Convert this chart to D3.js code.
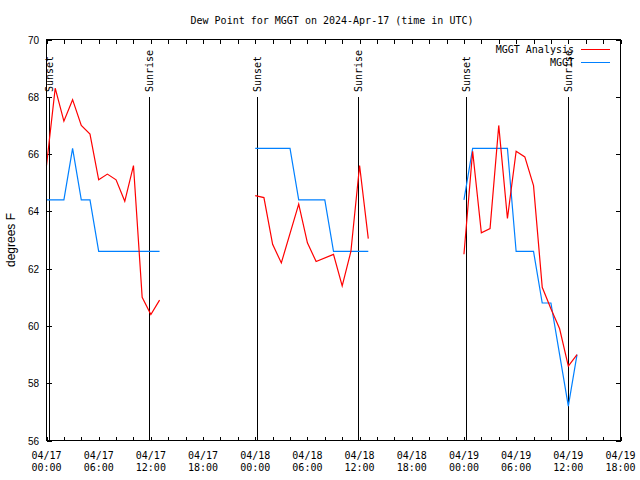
<!DOCTYPE html>
<html>
<head>
<meta charset="utf-8">
<script src="https://cdn.jsdelivr.net/npm/d3@7"></script>
<style>
  html, body { margin: 0; padding: 0; background: #fff; }
  svg { display: block; }
  .mono { font-family: "DejaVu Sans Mono", "Liberation Mono", monospace; font-size: 10px; fill: #000; }
  .sans { font-family: "Liberation Sans", Arial, sans-serif; fill: #000; }
</style>
</head>
<body>
<svg id="chart" width="640" height="480"></svg>
<script>
// ---- data (hours since 2024-04-17 00:00 UTC) ----
const titleText = "Dew Point for MGGT on 2024-Apr-17 (time in UTC)";
const yLabel = "degrees F";
const seriesNames = ["MGGT Analysis", "MGGT"];

// MGGT Analysis (red), three separate segments
const analysisHours = [0,1,2,3,4,5,6,7,8,9,10,11,12,13,
                       24,25,26,27,29,30,31,33,34,35,36,37,
                       48,49,50,51,52,53,54,55,56,57,58,59,60,61];
const analysisSegment = [1,1,1,1,1,1,1,1,1,1,1,1,1,1,
                         2,2,2,2,2,2,2,2,2,2,2,2,
                         3,3,3,3,3,3,3,3,3,3,3,3,3,3];
const analysisValues = [65.6,68.3,67.15,67.9,67.0,66.7,65.1,65.3,65.1,64.35,65.6,61.0,60.4,60.9,
                        64.55,64.48,62.85,62.2,64.25,62.9,62.25,62.5,61.4,62.6,65.6,63.05,
                        62.5,66.1,63.25,63.4,67.0,63.75,66.1,65.9,64.9,61.35,60.6,59.9,58.6,59.0];

// MGGT observations (blue)
const obsHours = [0,1,2,3,4,5,6,7,8,9,10,11,12,13,
                  24,25,26,27,28,29,30,31,32,33,34,35,36,37,
                  48,49,50,51,52,53,54,55,56,57,58,59,60,61];
const obsSegment = [1,1,1,1,1,1,1,1,1,1,1,1,1,1,
                    2,2,2,2,2,2,2,2,2,2,2,2,2,2,
                    3,3,3,3,3,3,3,3,3,3,3,3,3,3];
const obsValues = [64.4,64.4,64.4,66.2,64.4,64.4,62.6,62.6,62.6,62.6,62.6,62.6,62.6,62.6,
                   66.2,66.2,66.2,66.2,66.2,64.4,64.4,64.4,64.4,62.6,62.6,62.6,62.6,62.6,
                   64.4,66.2,66.2,66.2,66.2,66.2,62.6,62.6,62.6,60.8,60.8,59.0,57.2,59.0];

// sunrise / sunset markers
const eventHours = [0.23, 11.82, 24.2, 35.87, 48.23, 59.93];
const eventLabels = ["Sunset","Sunrise","Sunset","Sunrise","Sunset","Sunrise"];

// axes
const xTickHours = d3.range(0, 67, 2);
const xLabelHours = [0,6,12,18,24,30,36,42,48,54,60,66];
const xLabelDates = ["04/17","04/17","04/17","04/17","04/18","04/18","04/18","04/18","04/19","04/19","04/19","04/19"];
const xLabelTimes = ["00:00","06:00","12:00","18:00","00:00","06:00","12:00","18:00","00:00","06:00","12:00","18:00"];
const yTicks = [56,58,60,62,64,66,68,70];

// ---- drawing ----
const svg = d3.select("#chart");
const L = 46.5, R = 620.5, T = 39.5, B = 440.5;
const x = d3.scaleLinear().domain([0, 66]).range([L, R]);
const y = d3.scaleLinear().domain([56, 70]).range([B, T]);

// title
svg.append("text").attr("class","mono")
  .attr("x", 332).attr("y", 24).attr("text-anchor","middle").text(titleText);

// y label
svg.append("text").attr("class","sans")
  .attr("font-size", 12)
  .attr("transform", "translate(11,240) rotate(-90)")
  .attr("text-anchor","middle").attr("dy","0.35em").text(yLabel);

// y tick labels
svg.append("g").selectAll("text").data(yTicks).join("text")
  .attr("class","sans").attr("font-size", 10)
  .attr("x", 39).attr("y", d => Math.round(y(d)) + 4)
  .attr("text-anchor","end").text(d => d);

// x tick labels
const xl = svg.append("g");
xl.selectAll("text.d").data(xLabelHours).join("text")
  .attr("class","mono d").attr("x", d => x(d)).attr("y", 458.5)
  .attr("text-anchor","middle").text((d,i) => xLabelDates[i]);
xl.selectAll("text.t").data(xLabelHours).join("text")
  .attr("class","mono t").attr("x", d => x(d)).attr("y", 471)
  .attr("text-anchor","middle").text((d,i) => xLabelTimes[i]);

// ticks (inward) using axes
const tickG = svg.append("g").attr("shape-rendering","crispEdges");
const axB = d3.axisTop(x).tickValues(xTickHours).tickSize(4).tickFormat("");
const axT = d3.axisBottom(x).tickValues(xTickHours).tickSize(4).tickFormat("");
const axL = d3.axisRight(y).tickValues(yTicks).tickSize(5).tickFormat("");
const axR = d3.axisLeft(y).tickValues(yTicks).tickSize(5).tickFormat("");
tickG.append("g").attr("transform", `translate(0,${B})`).call(axB);
tickG.append("g").attr("transform", `translate(0,${T})`).call(axT);
tickG.append("g").attr("transform", `translate(${L},0)`).call(axL);
tickG.append("g").attr("transform", `translate(${R},0)`).call(axR);
tickG.selectAll(".domain").remove();
tickG.selectAll("line").attr("stroke","#000");

// sunrise/sunset lines
const ev = svg.append("g");
ev.selectAll("line").data(eventHours).join("line")
  .attr("x1", d => Math.round(x(d)) + 0.5).attr("x2", d => Math.round(x(d)) + 0.5)
  .attr("y1", y(56)).attr("y2", y(68))
  .attr("stroke","#000").attr("stroke-width",1).attr("shape-rendering","crispEdges");
ev.selectAll("text").data(eventHours).join("text")
  .attr("class","mono")
  .attr("transform", d => `translate(${Math.round(x(d)) + 0.5},92) rotate(-90)`)
  .attr("dy","0.35em").attr("text-anchor","start")
  .text((d,i) => eventLabels[i]);

// series
function build(hours, segs, vals) {
  const pts = [];
  for (let i = 0; i < hours.length; i++) {
    if (i > 0 && segs[i] !== segs[i-1]) pts.push(null);
    pts.push({h: hours[i], v: vals[i]});
  }
  return pts;
}
const line = d3.line().defined(d => d !== null).x(d => x(d.h)).y(d => y(d.v));
const redColor = "#ff0000", blueColor = "#0080ff";
svg.append("path").datum(build(obsHours, obsSegment, obsValues))
  .attr("d", line).attr("fill","none").attr("stroke", blueColor).attr("stroke-width",1.2);
svg.append("path").datum(build(analysisHours, analysisSegment, analysisValues))
  .attr("d", line).attr("fill","none").attr("stroke", redColor).attr("stroke-width",1.2);

// frame
svg.append("rect").attr("x", L).attr("y", T).attr("width", R - L).attr("height", B - T)
  .attr("fill","none").attr("stroke","#000").attr("stroke-width",1).attr("shape-rendering","crispEdges");

// legend
const lg = svg.append("g");
const legendColors = [redColor, blueColor];
seriesNames.forEach((name, i) => {
  const yy = 49.5 + i * 13;
  lg.append("text").attr("class","mono").attr("x", 574).attr("y", yy + 3.5)
    .attr("text-anchor","end").text(name);
  lg.append("line").attr("x1", 581).attr("x2", 610).attr("y1", yy).attr("y2", yy)
    .attr("stroke", legendColors[i]).attr("stroke-width",1).attr("shape-rendering","crispEdges");
});
</script>
</body>
</html>
